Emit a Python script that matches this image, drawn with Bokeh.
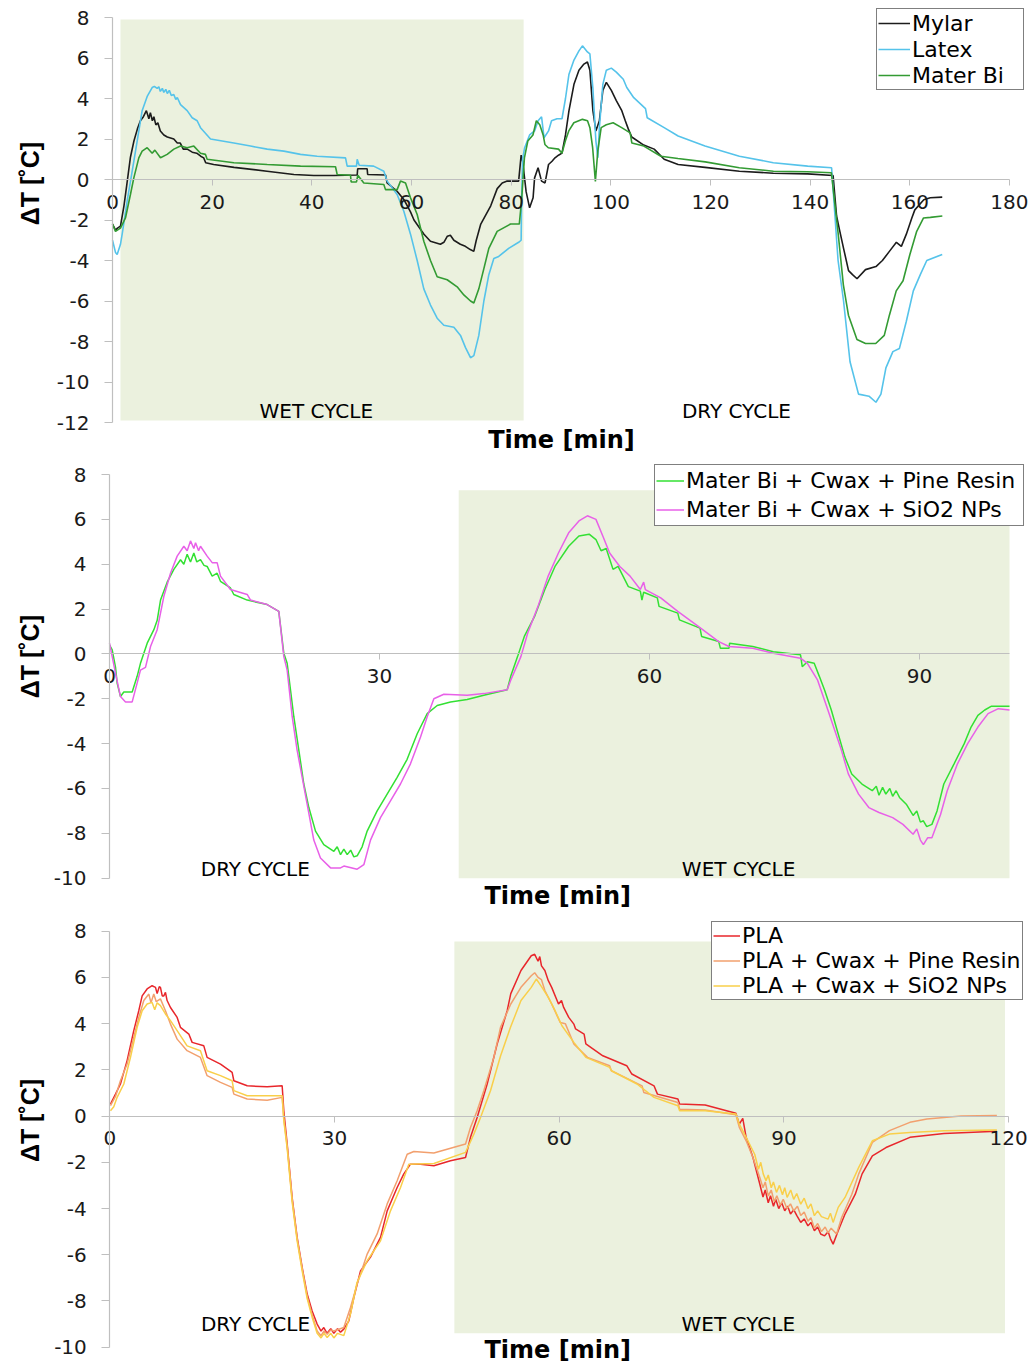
import math
from bokeh.plotting import figure
from bokeh.models import Range1d, FixedTicker, Legend, LegendItem, Label
from bokeh.layouts import column
from bokeh.embed import file_html
from bokeh.resources import INLINE

# ---------------- data ----------------
# Panel 1
p1_xticks = [0, 20, 40, 60, 80, 100, 120, 140, 160, 180]
p1_yticks = [-12, -10, -8, -6, -4, -2, 0, 2, 4, 6, 8]
p1_wet = [1.6, 82.5, -11.9, 7.9]   # left, right, bottom, top

mylar_t = [0.0, 0.6, 1.0, 1.6, 2.3, 2.9, 3.6, 4.3, 5.0, 5.6,
           6.2, 6.8, 7.3, 7.6, 8.0, 8.3, 8.7, 9.1, 9.6, 10.3,
           11.0, 12.3, 13.0, 13.6, 14.2, 15.0, 16.0, 16.9, 17.7, 18.3,
           18.7, 20.3, 24.4, 31.0, 36.4, 40.4, 44.4, 49.1, 49.2, 51.1,
           51.2, 54.8, 55.1, 57.1, 58.5, 59.8, 60.5, 62.5, 63.8, 65.8,
           66.5, 67.2, 67.8, 68.5, 69.8, 70.8, 71.8, 72.5, 73.0, 73.9,
           75.9, 77.2, 78.2, 79.2, 81.5, 82.0, 82.3, 83.0, 83.7, 84.4,
           84.7, 85.4, 86.1, 86.8, 87.5, 88.2, 88.8, 89.5, 90.2, 90.9,
           91.6, 92.6, 93.6, 94.6, 95.3, 95.8, 96.4, 97.0, 97.7, 98.4,
           99.1, 100.1, 101.1, 102.2, 102.9, 103.5, 104.2, 106.6, 108.7, 110.7,
           113.5, 118.9, 125.8, 132.6, 139.5, 144.6, 145.3, 145.9, 146.7, 147.7,
           148.5, 149.4, 151.1, 153.2, 154.5, 155.9, 157.3, 158.3, 159.3, 160.4,
           161.0, 162.8, 164.1, 166.5]
mylar_dt = [-2.2, -2.5, -2.4, -2.3, -1.3, -0.2, 1.1, 1.9, 2.5, 2.9,
            3.1, 3.4, 3.0, 3.3, 2.9, 3.1, 2.7, 2.8, 2.4, 2.2,
            2.1, 2.0, 1.8, 1.8, 1.5, 1.5, 1.35, 1.3, 1.15, 1.07,
            0.83, 0.74, 0.6, 0.41, 0.25, 0.2, 0.2, 0.22, 0.53, 0.53,
            0.25, 0.22, -0.17, -0.58, -1.0, -1.6, -2.0, -2.7, -3.05, -3.2,
            -3.1, -2.8, -2.75, -3.0, -3.2, -3.3, -3.46, -3.55, -3.0, -2.2,
            -1.3, -0.45, -0.17, -0.08, -0.08, 1.2, 0.9, -0.6, -1.4, -0.9,
            0.08, 0.58, -0.08, -0.17, 0.74, 0.9, 1.07, 1.2, 1.3, 2.2,
            3.4, 4.7, 5.4, 5.7, 5.8, 5.4, 3.4, 2.4, 2.9, 4.4,
            4.8, 4.4, 3.9, 3.4, 2.9, 2.5, 2.1, 1.7, 1.5, 1.0,
            0.74, 0.6, 0.41, 0.31, 0.28, 0.2, -1.8, -2.5, -3.4, -4.5,
            -4.7, -4.9, -4.45, -4.3, -4.0, -3.55, -3.1, -3.3, -2.7, -1.9,
            -1.5, -1.0, -0.9, -0.87]

latex_t = [0.0, 0.6, 0.94, 1.6, 1.94, 2.94, 3.95, 4.95, 5.95, 6.96,
           7.96, 8.4, 8.96, 9.3, 9.6, 10.0, 10.3, 10.7, 11.0, 11.4,
           11.8, 12.3, 12.7, 13.0, 13.65, 14.98,
           15.99, 16.99, 17.66, 19.67, 24.35, 27.69, 31.04, 34.38, 37.73, 41.07,
           46.76, 47.09, 48.96, 49.1, 49.5, 52.4, 54.45, 55.12, 57.12, 58.46,
           59.8, 61.14, 62.47, 63.81, 65.15, 66.49, 68.5, 69.83, 70.84, 71.84,
           72.51, 73.51, 74.52, 75.52, 76.52, 77.5, 79.5, 81.5, 82.0, 82.1,
           82.3, 82.7, 83.7, 84.7, 85.4, 86.1, 86.6, 87.5, 88.1, 89.2,
           90.2, 90.9, 91.6, 92.6, 93.6, 94.3, 95.3, 95.8, 96.4, 97.0,
           97.4, 97.7, 98.4, 99.1, 100.1, 101.1, 102.5, 103.2, 104.6, 106.96,
           107.3, 110.7, 113.5, 118.9, 125.8, 132.6, 139.5, 144.3, 145.6, 146.7,
           148.0, 149.7, 151.8, 153.2, 154.2, 155.2, 156.6, 157.9, 159.3, 160.7,
           162.1, 163.4, 166.5]
latex_dt = [-3.0, -3.6, -3.7, -3.2, -2.7, -1.07, 0.41, 1.9, 3.4, 4.1,
            4.54, 4.6, 4.5, 4.58, 4.35, 4.5, 4.3, 4.45, 4.25, 4.4,
            4.15, 4.2, 3.95, 4.05, 3.7, 3.4,
            3.05, 2.9, 2.56, 2.0, 1.8, 1.65, 1.5, 1.4, 1.24, 1.15,
            1.07, 0.66, 0.66, 1.0, 0.7, 0.66, 0.41, -0.08, -0.74, -1.57,
            -2.7, -4.0, -5.4, -6.2, -6.85, -7.2, -7.3, -7.7, -8.3, -8.8,
            -8.7, -7.7, -6.0, -4.7, -3.9, -3.8, -3.4, -3.1, -3.0, -1.0,
            1.0, 1.57, 2.2, 2.4, 2.9, 3.1, 2.06, 2.4, 2.9, 3.0,
            3.0, 4.0, 5.2, 5.9, 6.35, 6.6, 6.3, 6.2, 4.5, 1.9,
            1.07, 2.56, 4.7, 5.4, 5.5, 5.3, 4.95, 4.54, 4.04, 3.5,
            3.05, 2.56, 2.15, 1.65, 1.15, 0.83, 0.66, 0.58, -4.0, -6.0,
            -9.0, -10.6, -10.7, -11.0, -10.6, -9.3, -8.5, -8.35, -7.0, -5.5,
            -4.7, -4.0, -3.7]

materbi_t = [0.0, 0.6, 1.6, 2.6, 3.6, 4.28, 5.28, 5.95, 6.96, 7.96,
             8.5, 9.63, 10.97, 12.31, 13.65, 14.98, 16.32, 17.66, 18.66, 18.99,
             24.35, 31.04, 37.73, 44.75, 45.08, 47.76, 47.89, 48.96, 49.23, 50.43,
             54.45, 54.78, 57.12, 57.79, 58.8, 59.8, 61.14, 62.47, 63.81, 65.15,
             67.16, 69.16, 70.5, 71.84, 72.51, 73.51, 74.52, 75.52, 77.19, 79.87,
             81.63, 82.1, 82.66, 83.34, 84.37, 85.05, 85.74, 86.42, 86.77, 87.45,
             89.5, 90.19, 90.87, 91.56, 92.58, 94.3, 95.32, 95.8, 96.35, 96.9,
             97.38, 98.06, 99.09, 100.46, 102.17, 103.88, 104.22, 106.62, 110.04, 113.46,
             118.94, 125.78, 132.63, 139.47, 144.26, 145.63, 146.66, 147.68, 149.39, 151.11,
             153.16, 154.87, 155.9, 157.27, 158.64, 160.01, 161.38, 162.75, 164.12, 166.52]
materbi_dt = [-2.2, -2.56, -2.4, -1.9, -0.74, 0.08, 1.07, 1.4, 1.57, 1.3,
              1.45, 1.07, 1.24, 1.5, 1.65, 1.57, 1.65, 1.3, 1.24, 1.0,
              0.83, 0.74, 0.66, 0.63, 0.25, 0.21, -0.12, -0.12, 0.21, -0.17,
              -0.25, -0.5, -0.5, -0.08, -0.17, -0.9, -1.73, -3.05, -4.0, -4.8,
              -4.95, -5.3, -5.7, -6.0, -6.1, -5.4, -4.4, -3.4, -2.56, -2.2,
              -2.2, -1.0, 1.07, 1.9, 2.2, 2.9, 2.7, 2.2, 1.73, 1.57,
              1.5, 1.3, 1.9, 2.4, 2.8, 2.97, 2.9, 2.56, 1.57, -0.1,
              1.4, 2.56, 2.7, 2.8, 2.56, 2.3, 1.8, 1.65, 1.15, 1.04,
              0.87, 0.58, 0.41, 0.38, 0.33, -2.7, -5.2, -6.7, -7.9, -8.1,
              -8.1, -7.7, -6.7, -5.5, -5.0, -3.7, -2.56, -1.9, -1.87, -1.8]

# Panel 2
p2_xticks = [0, 30, 60, 90]
p2_yticks = [-10, -8, -6, -4, -2, 0, 2, 4, 6, 8]
p2_wet = [38.8, 100.0, -10.0, 7.3]

mbpine_t = [0.0, 0.3, 0.67, 0.85, 1.22, 1.59, 2.52, 3.07, 3.44, 4.19,
            4.93, 5.3, 5.67, 6.41, 7.15, 7.89, 8.26, 8.63, 9.0, 9.37,
            9.7, 10.11, 10.5, 10.85, 11.41, 11.96, 12.33, 13.44, 13.81, 15.3,
            17.52, 18.81, 19.37, 19.74, 20.11, 20.48, 21.04, 21.59, 22.15, 22.89,
            23.81, 24.93, 25.3, 25.67, 26.04, 26.41, 26.8, 27.15, 27.52, 28.07,
            28.63, 29.74, 30.85, 31.96, 33.07, 34.19, 35.3, 36.41, 37.89, 39.74,
            41.59, 44.19, 44.58, 45.34, 46.09, 47.23, 48.37, 49.5, 51.02, 52.16,
            53.29, 54.05, 54.62, 55.19, 55.95, 56.51, 57.65, 58.98, 59.16, 59.35,
            60.87, 61.06, 63.14, 63.33, 65.61, 65.79, 67.69, 67.88, 68.83, 68.9,
            71.48, 73.75, 76.78, 76.97, 77.54, 78.3, 78.87, 79.44, 80.2, 80.96,
            81.71, 82.47, 83.61, 84.75, 85.2, 85.5, 85.9, 86.26, 86.7, 87.02,
            87.4, 87.78, 88.53, 89.29, 89.7, 90.1, 90.43, 90.8, 91.38, 91.95,
            92.7, 93.84, 94.97, 95.73, 96.49, 97.25, 98.0, 100.0]
mbpine_dt = [0.4, 0.18, -0.6, -1.3, -1.9, -1.7, -1.7, -1.0, -0.42, 0.48,
             1.08, 1.5, 2.4, 3.2, 3.77, 4.2, 4.0, 4.44, 4.1, 4.5,
             4.1, 4.2, 3.95, 3.9, 3.47, 3.6, 3.24, 2.94, 2.65, 2.4,
             2.2, 1.9, 0.03, -0.42, -1.6, -2.8, -4.3, -5.8, -6.85, -7.9,
             -8.5, -8.8, -8.6, -8.95, -8.7, -8.95, -8.75, -9.05, -9.0, -8.6,
             -7.9, -7.0, -6.25, -5.5, -4.7, -3.56, -2.66, -2.3, -2.14, -2.03,
             -1.84, -1.6, -1.0, -0.12, 0.78, 1.67, 2.87, 3.9, 4.8, 5.26,
             5.34, 5.1, 4.6, 4.7, 3.77, 3.9, 3.0, 2.8, 2.4, 2.75,
             2.5, 2.12, 1.82, 1.52, 1.15, 0.78, 0.55, 0.25, 0.25, 0.48,
             0.33, 0.1, -0.04, -0.57, -0.35, -0.42, -1.0, -1.6, -2.5, -3.56,
             -4.6, -5.35, -5.8, -6.1, -5.9, -6.3, -5.95, -6.25, -6.0, -6.35,
             -6.1, -6.4, -6.7, -7.2, -7.0, -7.5, -7.44, -7.7, -7.6, -7.0,
             -5.8, -4.9, -4.0, -3.26, -2.74, -2.5, -2.33, -2.33]

mbsio2_t = [0.0, 0.67, 1.22, 1.78, 2.52, 3.07, 3.44, 4.0, 4.56, 5.3,
            6.04, 6.78, 7.52, 8.26, 8.63, 9.0, 9.37, 9.56, 9.9, 10.11,
            10.85, 11.41, 11.96, 12.33, 13.44, 15.3, 15.67, 17.52, 18.81, 19.37,
            19.74, 20.3, 20.85, 21.41, 21.96, 22.7, 23.44, 24.56, 25.67, 26.04,
            27.52, 28.26, 29.0, 30.11, 31.22, 32.33, 33.44, 34.56, 35.3, 36.04,
            37.15, 39.74, 41.59, 44.19, 44.58, 45.71, 46.47, 47.61, 48.74, 49.88,
            51.02, 52.16, 53.1, 54.05, 54.81, 55.57, 56.7, 57.84, 58.98, 59.35,
            59.54, 61.25, 63.14, 65.42, 67.69, 68.83, 71.48, 73.75, 76.78, 77.54,
            78.68, 79.82, 80.58, 81.33, 82.09, 83.23, 84.37, 85.5, 87.02, 88.16,
            89.29, 89.7, 90.1, 90.43, 90.9, 91.38, 92.33, 93.08, 94.22, 95.35,
            96.49, 97.62, 98.76, 100.0]
mbsio2_dt = [0.48, -0.87, -1.9, -2.14, -2.14, -1.3, -0.72, -0.6, 0.33, 1.08,
             2.57, 3.6, 4.36, 4.8, 4.6, 5.04, 4.7, 4.96, 4.6, 4.8,
             4.36, 4.07, 4.07, 3.47, 2.87, 2.65, 2.4, 2.2, 1.9, -0.12,
             -0.72, -2.8, -4.3, -5.5, -6.7, -8.3, -9.1, -9.54, -9.54, -9.46,
             -9.6, -9.4, -8.3, -7.3, -6.55, -5.8, -4.9, -3.7, -2.8, -2.0,
             -1.8, -1.84, -1.77, -1.6, -1.17, -0.12, 0.93, 2.12, 3.47, 4.5,
             5.4, 5.93, 6.16, 6.0, 5.26, 4.5, 3.9, 3.47, 2.87, 3.2,
             2.87, 2.5, 1.9, 1.23, 0.55, 0.33, 0.25, 0.03, -0.19, -0.42,
             -1.17, -2.5, -3.4, -4.3, -5.35, -6.25, -6.85, -7.07, -7.3, -7.6,
             -8.04, -7.8, -8.3, -8.5, -8.2, -8.2, -7.17, -6.1, -4.9, -4.0,
             -3.26, -2.66, -2.44, -2.5]

# Panel 3
p3_xticks = [0, 30, 60, 90, 120]
p3_yticks = [-10, -8, -6, -4, -2, 0, 2, 4, 6, 8]
p3_wet = [46.0, 119.5, -9.4, 7.55]

pla_t = [0.09, 0.76, 1.42, 2.31, 3.2, 3.87, 4.32, 4.98, 5.65, 6.1,
         6.32, 6.6, 6.76, 7.0, 7.21, 7.43, 7.65, 8.1, 8.99, 9.43,
         10.55, 10.99, 12.55, 12.99, 14.78, 16.33, 16.56, 18.34, 21.01, 23.01,
         23.23, 23.68, 24.34, 25.01, 25.68, 26.35, 27.01, 27.68, 28.2, 28.57,
         29.0, 29.5, 29.91, 30.4, 30.8, 31.24, 31.91, 32.58, 33.47, 34.8,
         36.14, 37.03, 38.36, 39.25, 40.14, 41.48, 43.26, 45.48, 47.49, 48.15,
         49.04, 50.38, 51.71, 53.05, 53.53, 54.89, 56.26, 56.72, 57.17, 57.4,
         57.63, 58.08, 58.54, 58.99, 59.9, 60.3, 60.59, 61.27, 61.95, 62.18,
         63.32, 63.55, 65.82, 69.01, 69.69, 72.65, 73.11, 75.84, 76.07, 79.48,
         83.58, 84.04, 84.5, 84.95, 85.86,
         86.77, 87.2, 87.5, 87.9, 88.2, 88.6, 88.9, 89.3, 89.7, 90.1,
         90.5, 90.87, 91.3, 91.7, 92.24, 92.7, 93.2, 93.6, 94.06, 94.5,
         94.9, 95.42, 95.9, 96.2, 96.56,
         97.24, 98.15, 99.52, 100.43, 101.8, 103.62, 106.81, 111.36, 118.42]
pla_dt = [0.52, 0.95, 1.39, 2.4, 3.7, 4.56, 5.2, 5.5, 5.64, 5.57,
          5.3, 5.6, 5.57, 5.2, 5.2, 5.35, 5.0, 4.7, 4.27, 3.84,
          3.55, 3.19, 3.04, 2.54, 2.25, 1.89, 1.53, 1.31, 1.27, 1.31,
          0.23, -1.21, -3.52, -5.25, -6.55, -7.7, -8.43, -9.0, -9.3, -9.15,
          -9.4, -9.2, -9.4, -9.2, -9.35, -9.22, -8.86, -7.85, -6.7, -6.1,
          -5.25, -4.1, -3.09, -2.5, -2.08, -2.08, -2.15, -1.93, -1.79, -0.92,
          -0.06, 1.39, 3.12, 4.56, 5.3, 6.3, 6.94, 7.0, 6.7, 6.9,
          6.5, 6.3, 5.86, 5.57, 4.85, 5.0, 4.7, 4.27, 3.98, 3.77,
          3.55, 3.12, 2.61, 2.18, 1.82, 1.31, 0.95, 0.74, 0.52, 0.48,
          0.12, -0.35, -0.1, -0.92, -1.79,
          -2.94, -3.5, -3.2, -3.75, -3.45, -3.9, -3.6, -4.0, -3.75, -4.1,
          -3.9, -4.24, -4.05, -4.3, -4.6, -4.45, -4.75, -4.6, -4.96, -4.8,
          -5.1, -5.18, -5.0, -5.3, -5.54,
          -4.96, -4.24, -3.38, -2.5, -1.72, -1.36, -0.92, -0.75, -0.66]

plapine_t = [0.09, 0.76, 1.42, 2.31, 3.2, 3.87, 4.54, 5.21, 5.5, 5.87,
             6.2, 6.76, 7.43, 8.1, 8.99, 10.32, 12.1, 12.99, 14.78, 16.33,
             16.56, 18.34, 21.01, 23.01, 23.23, 23.68, 24.34, 25.01, 25.68, 26.35,
             27.01, 27.68, 28.2, 28.6, 29.02, 29.5, 29.91, 31.24, 32.13, 33.02,
             34.36, 35.69, 37.03, 38.36, 39.7, 40.59, 43.26, 47.49, 48.15, 49.04,
             49.93, 51.27, 52.16, 53.53, 54.89, 56.26, 56.72, 57.17, 57.63, 58.08,
             58.99, 60.13, 60.81, 61.95, 63.77, 66.73, 66.96, 71.06, 71.29, 75.84,
             76.07, 79.48, 83.58, 84.04, 84.95, 85.86,
             86.77, 87.2, 87.5, 87.9, 88.3, 88.7, 89.05, 89.5, 89.9, 90.4,
             90.87, 91.3, 91.8, 92.24, 92.7, 93.2, 93.6, 94.06, 94.5, 95.0,
             95.5, 95.88, 96.3, 97.02,
             97.7, 99.06, 99.98, 101.8, 104.08, 106.81, 109.08, 113.64, 118.42]
plapine_dt = [0.45, 0.85, 1.53, 2.25, 3.4, 4.27, 5.0, 5.28, 4.9, 5.28,
              4.95, 5.07, 4.56, 3.98, 3.33, 2.83, 2.54, 1.75, 1.46, 1.24,
              0.95, 0.74, 0.69, 0.81, -0.1, -1.3, -3.6, -5.3, -6.6, -7.8,
              -8.6, -9.3, -9.5, -9.3, -9.44, -9.25, -9.3, -9.15, -8.28, -7.27,
              -5.97, -5.1, -3.8, -2.8, -1.65, -1.53, -1.6, -1.21, -0.49, 0.23,
              1.1, 2.54, 3.84, 4.85, 5.57, 6.07, 6.2, 6.0, 5.9, 5.43,
              4.85, 4.05, 4.0, 3.12, 2.54, 2.18, 1.96, 1.31, 1.02, 0.59,
              0.3, 0.26, 0.06, -0.49, -1.07, -1.79,
              -2.66, -3.1, -2.85, -3.45, -3.2, -3.7, -3.45, -3.85, -3.6, -4.0,
              -3.8, -4.1, -3.9, -4.3, -4.15, -4.55, -4.4, -4.85, -4.65, -5.0,
              -4.8, -5.05, -4.85, -5.1,
              -4.39, -3.38, -2.5, -1.14, -0.63, -0.27, -0.13, 0.0, 0.03]

plasio2_t = [0.09, 0.53, 0.98, 1.87, 2.76, 3.65, 4.32, 4.98, 5.65, 6.0,
             6.32, 6.76, 7.43, 8.1, 8.99, 10.32, 12.1, 12.99, 14.78, 16.33,
             16.56, 18.34, 23.01, 23.23, 23.68, 24.34, 25.01, 25.68, 26.35, 27.01,
             27.68, 28.2, 28.6, 29.02, 29.5, 29.91, 30.4, 31.24, 32.13, 33.0,
             34.36, 36.14, 37.47, 38.81, 39.92, 43.26, 47.49, 48.6, 49.49, 50.82,
             52.16, 53.49, 54.89, 56.26, 56.94, 57.63, 58.54, 59.45, 60.36, 61.95,
             63.55, 66.73, 66.96, 70.38, 72.65, 75.84, 76.07, 79.48, 83.58, 84.04,
             84.95, 86.09,
             86.6, 86.9, 87.23, 87.6, 87.9, 88.3, 88.59, 89.0, 89.4, 89.8,
             90.1, 90.42, 90.9, 91.3, 91.7, 92.24, 92.7, 93.2, 93.6, 94.06,
             94.5, 95.0, 95.88, 96.2, 96.56,
             97.24, 98.15, 99.98, 101.8, 104.08, 106.81, 111.36, 118.42]
plasio2_dt = [0.23, 0.4, 0.81, 1.39, 2.54, 3.84, 4.56, 4.85, 4.92, 4.6,
              4.9, 4.78, 4.42, 4.13, 3.7, 3.04, 2.83, 1.96, 1.75, 1.53,
              1.1, 0.88, 0.88, -0.2, -1.4, -3.7, -5.4, -6.7, -7.9, -8.7,
              -9.4, -9.6, -9.4, -9.58, -9.4, -9.6, -9.4, -9.5, -8.57, -7.2,
              -6.26, -5.4, -4.1, -3.09, -2.08, -2.05, -1.57, -0.78, -0.06, 1.1,
              2.6, 3.84, 5.0, 5.57, 5.93, 5.6, 5.14, 4.56, 3.91, 3.19,
              2.54, 2.11, 1.96, 1.39, 0.81, 0.45, 0.23, 0.23, 0.09, -0.35,
              -0.92, -1.65,
              -2.3, -2.0, -2.5, -2.8, -2.55, -3.1, -2.85, -3.3, -3.0, -3.4,
              -3.1, -3.52, -3.2, -3.6, -3.35, -3.81, -3.55, -4.0, -3.8, -4.31,
              -4.1, -4.35, -4.46, -4.2, -4.6,
              -3.95, -3.52, -2.22, -1.07, -0.78, -0.71, -0.63, -0.6]

for _a, _b in [(mylar_t, mylar_dt), (latex_t, latex_dt), (materbi_t, materbi_dt),
               (mbpine_t, mbpine_dt), (mbsio2_t, mbsio2_dt), (pla_t, pla_dt),
               (plapine_t, plapine_dt), (plasio2_t, plasio2_dt)]:
    assert len(_a) == len(_b), (len(_a), len(_b))

# ---------------- styling / layout ----------------
FONT = "DejaVu Sans"
TXT = "#1a1a1a"
AX = "#BFBFBF"
SHADE = "#EBF1DE"
W = 1028


def x_range_for(v0, p0, v1, p1, total):
    s = (p1 - p0) / (v1 - v0)
    start = v0 - p0 / s
    return Range1d(start, start + total / s)


def y_range_for(vt, pt, vb, pb, total):
    s = (pb - pt) / (vt - vb)
    end = vt + pt / s
    return Range1d(end - total / s, end)


def base(height, xr, yr, xb, yb, xticks, yticks):
    p = figure(width=W, height=height, x_range=xr, y_range=yr,
               output_backend="svg", toolbar_location=None,
               min_border_left=0, min_border_right=0,
               min_border_top=0, min_border_bottom=0)
    p.outline_line_color = None
    p.xgrid.visible = False
    p.ygrid.visible = False
    p.background_fill_color = "white"
    p.border_fill_color = "white"
    xa = p.xaxis[0]
    ya = p.yaxis[0]
    xa.fixed_location = 0
    ya.fixed_location = 0
    xa.bounds = xb
    ya.bounds = yb
    xa.ticker = FixedTicker(ticks=xticks)
    ya.ticker = FixedTicker(ticks=yticks)
    ya.major_label_overrides = {t: str(t) for t in yticks}
    for a in (xa, ya):
        a.axis_line_color = AX
        a.axis_line_width = 1.2
        a.major_tick_line_color = AX
        a.minor_tick_line_color = None
        a.major_tick_in = 0
        a.major_label_text_font = FONT
        a.major_label_text_font_size = "20px"
        a.major_label_text_color = TXT
    xa.major_tick_out = 6
    xa.major_label_standoff = 9
    ya.major_tick_out = 8
    ya.major_label_standoff = 15
    return p


def shade(p, box):
    p.quad(left=[box[0]], right=[box[1]], bottom=[box[2]], top=[box[3]],
           fill_color=SHADE, line_color=None, level="underlay")


def txt(p, x, y, s, size="20px", bold=False, angle=0.0, font=FONT):
    p.add_layout(Label(x=x, y=y, text=s, text_font=font,
                       text_font_style="bold" if bold else "normal",
                       text_font_size=size, text_color="black",
                       text_align="center", text_baseline="middle", angle=angle))


def legend(p, items, loc, row, gw, lw):
    leg = Legend(items=[LegendItem(label=l, renderers=[r]) for l, r in items],
                 location=loc, border_line_color="black", border_line_width=1,
                 background_fill_color="white", background_fill_alpha=1.0,
                 label_text_font=FONT, label_text_font_size="22px",
                 label_text_color="black", glyph_width=gw, glyph_height=row,
                 label_height=row, label_width=lw, spacing=0, padding=1,
                 margin=0, label_standoff=2)
    p.add_layout(leg)


# ---------------- panel 1 ----------------
H1 = 454
p1 = base(H1, x_range_for(0, 112, 180, 1009, W), y_range_for(8, 17, -12, 422, H1),
          (0, 180), (-12, 8), p1_xticks, p1_yticks)
shade(p1, p1_wet)
r_my = p1.line(mylar_t, mylar_dt, line_color="#1c1c1c", line_width=1.6)
r_la = p1.line(latex_t, latex_dt, line_color="#55C3EA", line_width=1.6)
r_mb = p1.line(materbi_t, materbi_dt, line_color="#339B33", line_width=1.6)
legend(p1, [("Mylar", r_my), ("Latex", r_la), ("Mater Bi", r_mb)], (876, H1 - 90), 26, 32, 110)
txt(p1, 40.9, -11.45, "WET CYCLE")
txt(p1, 125.2, -11.45, "DRY CYCLE")
txt(p1, 90.1, -12.86, "Time [min]", size="24px", bold=True)
txt(p1, -16.46, -0.2, "ΔT [˚C]", size="25px", bold=True, angle=math.pi / 2, font="Liberation Sans")

# ---------------- panel 2 ----------------
H2 = 458
p2 = base(H2, x_range_for(0, 109, 100, 1009, W), y_range_for(8, 20, -10, 423.7, H2),
          (0, 100), (-10, 8), p2_xticks, p2_yticks)
shade(p2, p2_wet)
r_pi = p2.line(mbpine_t, mbpine_dt, line_color="#33E033", line_width=1.5)
r_si = p2.line(mbsio2_t, mbsio2_dt, line_color="#E860E8", line_width=1.5)
legend(p2, [("Mater Bi + Cwax + Pine Resin", r_pi), ("Mater Bi + Cwax + SiO2 NPs", r_si)],
       (654, H2 - 72), 29, 28, 336)
txt(p2, 16.2, -9.57, "DRY CYCLE")
txt(p2, 69.9, -9.57, "WET CYCLE")
txt(p2, 49.8, -10.79, "Time [min]", size="24px", bold=True)
txt(p2, -8.78, -0.12, "ΔT [˚C]", size="25px", bold=True, angle=math.pi / 2, font="Liberation Sans")

# ---------------- panel 3 ----------------
H3 = 453
p3 = base(H3, x_range_for(0, 109.3, 120, 1008.2, W), y_range_for(8, 18.7, -10, 434.7, H3),
          (0, 120), (-10, 8), p3_xticks, p3_yticks)
shade(p3, p3_wet)
r_pla = p3.line(pla_t, pla_dt, line_color="#E8262B", line_width=1.5)
r_pp = p3.line(plapine_t, plapine_dt, line_color="#F2A06E", line_width=1.5)
r_ps = p3.line(plasio2_t, plasio2_dt, line_color="#F9CF4A", line_width=1.5)
legend(p3, [("PLA", r_pla), ("PLA + Cwax + Pine Resin", r_pp), ("PLA + Cwax + SiO2 NPs", r_ps)],
       (711, H3 - 88), 25, 27, 279)
txt(p3, 19.45, -8.98, "DRY CYCLE")
txt(p3, 83.9, -8.98, "WET CYCLE")
txt(p3, 59.8, -10.12, "Time [min]", size="24px", bold=True)
txt(p3, -10.59, -0.19, "ΔT [˚C]", size="25px", bold=True, angle=math.pi / 2, font="Liberation Sans")

layout = column(p1, p2, p3)
open("out.html", "w").write(file_html(layout, INLINE))
